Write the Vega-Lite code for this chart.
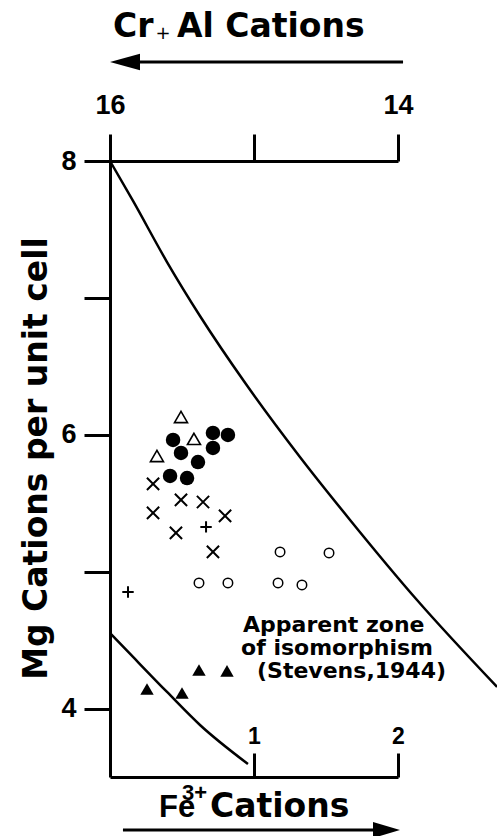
{
  "$schema": "https://vega.github.io/schema/vega-lite/v6.json",
  "width": 288,
  "height": 616,
  "autosize": {"type": "none"},
  "padding": {"left": 110, "top": 161, "right": 99, "bottom": 59},
  "background": "white",
  "config": {"view": {"stroke": null}},
  "datasets": {
    "pts": [
      {"fe": 0.493, "mg": 6.13, "type": "open triangle"},
      {"fe": 0.583, "mg": 5.97, "type": "open triangle"},
      {"fe": 0.326, "mg": 5.845, "type": "open triangle"},
      {"fe": 0.438, "mg": 5.962, "type": "filled circle"},
      {"fe": 0.715, "mg": 6.013, "type": "filled circle"},
      {"fe": 0.819, "mg": 5.999, "type": "filled circle"},
      {"fe": 0.493, "mg": 5.867, "type": "filled circle"},
      {"fe": 0.715, "mg": 5.904, "type": "filled circle"},
      {"fe": 0.611, "mg": 5.801, "type": "filled circle"},
      {"fe": 0.417, "mg": 5.699, "type": "filled circle"},
      {"fe": 0.535, "mg": 5.684, "type": "filled circle"},
      {"fe": 0.299, "mg": 5.641, "type": "x"},
      {"fe": 0.493, "mg": 5.524, "type": "x"},
      {"fe": 0.646, "mg": 5.509, "type": "x"},
      {"fe": 0.299, "mg": 5.429, "type": "x"},
      {"fe": 0.799, "mg": 5.407, "type": "x"},
      {"fe": 0.458, "mg": 5.283, "type": "x"},
      {"fe": 0.715, "mg": 5.144, "type": "x"},
      {"fe": 0.667, "mg": 5.327, "type": "plus"},
      {"fe": 0.125, "mg": 4.852, "type": "plus"},
      {"fe": 1.181, "mg": 5.144, "type": "open circle"},
      {"fe": 1.521, "mg": 5.137, "type": "open circle"},
      {"fe": 0.618, "mg": 4.918, "type": "open circle"},
      {"fe": 0.819, "mg": 4.918, "type": "open circle"},
      {"fe": 1.167, "mg": 4.918, "type": "open circle"},
      {"fe": 1.333, "mg": 4.903, "type": "open circle"},
      {"fe": 0.257, "mg": 4.143, "type": "filled triangle"},
      {"fe": 0.5, "mg": 4.114, "type": "filled triangle"},
      {"fe": 0.618, "mg": 4.282, "type": "filled triangle"},
      {"fe": 0.8125, "mg": 4.275, "type": "filled triangle"}
    ],
    "curves": [
      {"curve": "upper", "ord": 1, "fe": 0.0, "mg": 8.0},
      {"curve": "upper", "ord": 2, "fe": 0.16, "mg": 7.708},
      {"curve": "upper", "ord": 3, "fe": 0.396, "mg": 7.262},
      {"curve": "upper", "ord": 4, "fe": 0.625, "mg": 6.868},
      {"curve": "upper", "ord": 5, "fe": 0.944, "mg": 6.371},
      {"curve": "upper", "ord": 6, "fe": 1.319, "mg": 5.838},
      {"curve": "upper", "ord": 7, "fe": 1.667, "mg": 5.378},
      {"curve": "upper", "ord": 8, "fe": 2.132, "mg": 4.793},
      {"curve": "upper", "ord": 9, "fe": 2.688, "mg": 4.158},
      {"curve": "lower", "ord": 1, "fe": 0.0, "mg": 4.552},
      {"curve": "lower", "ord": 2, "fe": 0.16, "mg": 4.377},
      {"curve": "lower", "ord": 3, "fe": 0.396, "mg": 4.121},
      {"curve": "lower", "ord": 4, "fe": 0.625, "mg": 3.88},
      {"curve": "lower", "ord": 5, "fe": 0.958, "mg": 3.595}
    ],
    "texts": [
      {"grp": "annot", "fe": 0.924, "mg": 4.559, "t": "Apparent zone"},
      {"grp": "annot", "fe": 0.91, "mg": 4.391, "t": "of isomorphism"},
      {"grp": "annot", "fe": 1.021, "mg": 4.223, "t": "(Stevens,1944)"},
      {"grp": "big", "fe": 0.021, "mg": 8.906, "t": "Cr"},
      {"grp": "big", "fe": 0.465, "mg": 8.906, "t": "Al Cations"},
      {"grp": "big", "fe": 0.694, "mg": 3.208, "t": "Cations"},
      {"grp": "fe", "fe": 0.34, "mg": 3.208, "t": "Fe"},
      {"grp": "sup", "fe": 0.5, "mg": 3.332, "t": "3+"},
      {"grp": "plus", "fe": 0.368, "mg": 8.891, "t": "+"}
    ],
    "shafts": [
      {"fe": 0.104, "fe2": 2.035, "mg": 8.723},
      {"fe": 0.09, "fe2": 1.92, "mg": 3.113}
    ],
    "heads": [
      {"fe": 0.104, "mg": 8.723, "dir": "left"},
      {"fe": 1.92, "mg": 3.113, "dir": "right"}
    ]
  },
  "encoding": {
    "y": {
      "field": "mg",
      "type": "quantitative",
      "scale": {"domain": [3.5, 8], "nice": false, "zero": false},
      "axis": {
        "title": "Mg Cations per unit cell",
        "values": [4, 5, 6, 7, 8],
        "labelExpr": "datum.value % 2 == 0 ? datum.label : ''",
        "grid": false,
        "domainColor": "black",
        "domainWidth": 3,
        "tickColor": "black",
        "tickWidth": 3,
        "tickSize": 26,
        "labelPadding": 8,
        "labelFont": "Liberation Sans",
        "labelFontWeight": "bold",
        "labelFontSize": 27,
        "labelColor": "black",
        "labelFlush": false,
        "labelOverlap": false,
        "titleFont": "DejaVu Sans",
        "titleFontWeight": "bold",
        "titleFontSize": 33,
        "titleColor": "black",
        "titleAngle": -90,
        "titleX": -64,
        "titleY": 297,
        "titleAlign": "center",
        "titleBaseline": "alphabetic"
      }
    }
  },
  "resolve": {"axis": {"x": "independent"}},
  "layer": [
    {
      "data": {"name": "curves"},
      "mark": {"type": "line", "color": "black", "strokeWidth": 2.5, "interpolate": "monotone", "clip": false},
      "encoding": {
        "x": {
          "field": "fe",
          "type": "quantitative",
          "scale": {"domain": [0, 2], "nice": false, "zero": false},
          "axis": {
            "orient": "bottom",
            "values": [1, 2],
            "format": "d",
            "title": null,
            "grid": false,
            "domainColor": "black",
            "domainWidth": 3,
            "tickColor": "black",
            "tickWidth": 3,
            "tickSize": -24,
            "labelPadding": -10,
            "labelBaseline": "alphabetic",
            "labelFont": "Liberation Sans",
            "labelFontWeight": "bold",
            "labelFontSize": 23,
            "labelColor": "black",
            "labelFlush": false,
            "labelOverlap": false
          }
        },
        "detail": {"field": "curve"},
        "order": {"field": "ord", "type": "quantitative"}
      }
    },
    {
      "data": {"name": "pts"},
      "transform": [{"filter": "datum.type == 'open triangle'"}],
      "mark": {"type": "point", "shape": "triangle-up", "filled": true, "fill": "white", "stroke": "black", "strokeWidth": 1.6, "size": 170, "opacity": 1, "clip": false},
      "encoding": {
        "x": {
          "field": "fe",
          "type": "quantitative",
          "scale": {"domain": [0, 2], "nice": false, "zero": false},
          "axis": {
            "orient": "top",
            "values": [0, 1, 2],
            "labelExpr": "datum.value == 0 ? '16' : (datum.value == 2 ? '14' : '')",
            "title": null,
            "grid": false,
            "domainColor": "black",
            "domainWidth": 3,
            "tickColor": "black",
            "tickWidth": 3,
            "tickSize": 27,
            "labelPadding": 21,
            "labelBaseline": "alphabetic",
            "labelFont": "Liberation Sans",
            "labelFontWeight": "bold",
            "labelFontSize": 27,
            "labelColor": "black",
            "labelFlush": false,
            "labelOverlap": false
          }
        }
      }
    },
    {
      "data": {"name": "pts"},
      "transform": [{"filter": "datum.type == 'filled circle'"}],
      "mark": {"type": "point", "shape": "circle", "filled": true, "color": "black", "size": 210, "opacity": 1, "clip": false},
      "encoding": {"x": {"field": "fe", "type": "quantitative", "scale": {"domain": [0, 2], "nice": false, "zero": false}, "axis": null}}
    },
    {
      "data": {"name": "pts"},
      "transform": [{"filter": "datum.type == 'open circle'"}],
      "mark": {"type": "point", "shape": "circle", "filled": true, "fill": "white", "stroke": "black", "strokeWidth": 1.5, "size": 90, "opacity": 1, "clip": false},
      "encoding": {"x": {"field": "fe", "type": "quantitative", "scale": {"domain": [0, 2], "nice": false, "zero": false}, "axis": null}}
    },
    {
      "data": {"name": "pts"},
      "transform": [{"filter": "datum.type == 'x'"}],
      "mark": {"type": "point", "shape": "M-1,-1L1,1M-1,1L1,-1", "filled": false, "stroke": "black", "strokeWidth": 2, "size": 150, "opacity": 1, "clip": false},
      "encoding": {"x": {"field": "fe", "type": "quantitative", "scale": {"domain": [0, 2], "nice": false, "zero": false}, "axis": null}}
    },
    {
      "data": {"name": "pts"},
      "transform": [{"filter": "datum.type == 'plus'"}],
      "mark": {"type": "point", "shape": "M-1,0L1,0M0,-1L0,1", "filled": false, "stroke": "black", "strokeWidth": 2, "size": 130, "opacity": 1, "clip": false},
      "encoding": {"x": {"field": "fe", "type": "quantitative", "scale": {"domain": [0, 2], "nice": false, "zero": false}, "axis": null}}
    },
    {
      "data": {"name": "pts"},
      "transform": [{"filter": "datum.type == 'filled triangle'"}],
      "mark": {"type": "point", "shape": "triangle-up", "filled": true, "color": "black", "size": 180, "opacity": 1, "clip": false},
      "encoding": {"x": {"field": "fe", "type": "quantitative", "scale": {"domain": [0, 2], "nice": false, "zero": false}, "axis": null}}
    },
    {
      "data": {"name": "texts"},
      "transform": [{"filter": "datum.grp == 'annot'"}],
      "mark": {"type": "text", "align": "left", "baseline": "alphabetic", "font": "DejaVu Sans", "fontWeight": "bold", "fontSize": 22, "color": "black", "clip": false},
      "encoding": {"x": {"field": "fe", "type": "quantitative", "scale": {"domain": [0, 2], "nice": false, "zero": false}, "axis": null}, "text": {"field": "t"}}
    },
    {
      "data": {"name": "texts"},
      "transform": [{"filter": "datum.grp == 'big'"}],
      "mark": {"type": "text", "align": "left", "baseline": "alphabetic", "font": "DejaVu Sans", "fontWeight": "bold", "fontSize": 33, "color": "black", "clip": false},
      "encoding": {"x": {"field": "fe", "type": "quantitative", "scale": {"domain": [0, 2], "nice": false, "zero": false}, "axis": null}, "text": {"field": "t"}}
    },
    {
      "data": {"name": "texts"},
      "transform": [{"filter": "datum.grp == 'fe'"}],
      "mark": {"type": "text", "align": "left", "baseline": "alphabetic", "font": "Liberation Sans", "fontWeight": "bold", "fontSize": 31, "color": "black", "clip": false},
      "encoding": {"x": {"field": "fe", "type": "quantitative", "scale": {"domain": [0, 2], "nice": false, "zero": false}, "axis": null}, "text": {"field": "t"}}
    },
    {
      "data": {"name": "texts"},
      "transform": [{"filter": "datum.grp == 'sup'"}],
      "mark": {"type": "text", "align": "left", "baseline": "alphabetic", "font": "Liberation Sans", "fontWeight": "bold", "fontSize": 22, "color": "black", "clip": false},
      "encoding": {"x": {"field": "fe", "type": "quantitative", "scale": {"domain": [0, 2], "nice": false, "zero": false}, "axis": null}, "text": {"field": "t"}}
    },
    {
      "data": {"name": "texts"},
      "transform": [{"filter": "datum.grp == 'plus'"}],
      "mark": {"type": "text", "align": "center", "baseline": "alphabetic", "font": "DejaVu Sans", "fontWeight": "normal", "fontSize": 18, "color": "black", "clip": false},
      "encoding": {"x": {"field": "fe", "type": "quantitative", "scale": {"domain": [0, 2], "nice": false, "zero": false}, "axis": null}, "text": {"field": "t"}}
    },
    {
      "data": {"name": "shafts"},
      "mark": {"type": "rule", "color": "black", "strokeWidth": 3, "clip": false},
      "encoding": {
        "x": {"field": "fe", "type": "quantitative", "scale": {"domain": [0, 2], "nice": false, "zero": false}, "axis": null},
        "x2": {"field": "fe2"}
      }
    },
    {
      "data": {"name": "heads"},
      "transform": [{"filter": "datum.dir == 'left'"}],
      "mark": {"type": "point", "shape": "M-1,0L1,-0.55L1,0.55Z", "filled": true, "color": "black", "size": 900, "opacity": 1, "strokeWidth": 0, "clip": false},
      "encoding": {"x": {"field": "fe", "type": "quantitative", "scale": {"domain": [0, 2], "nice": false, "zero": false}, "axis": null}}
    },
    {
      "data": {"name": "heads"},
      "transform": [{"filter": "datum.dir == 'right'"}],
      "mark": {"type": "point", "shape": "M1,0L-1,-0.6L-1,0.6Z", "filled": true, "color": "black", "size": 729, "opacity": 1, "strokeWidth": 0, "clip": false},
      "encoding": {"x": {"field": "fe", "type": "quantitative", "scale": {"domain": [0, 2], "nice": false, "zero": false}, "axis": null}}
    }
  ]
}
